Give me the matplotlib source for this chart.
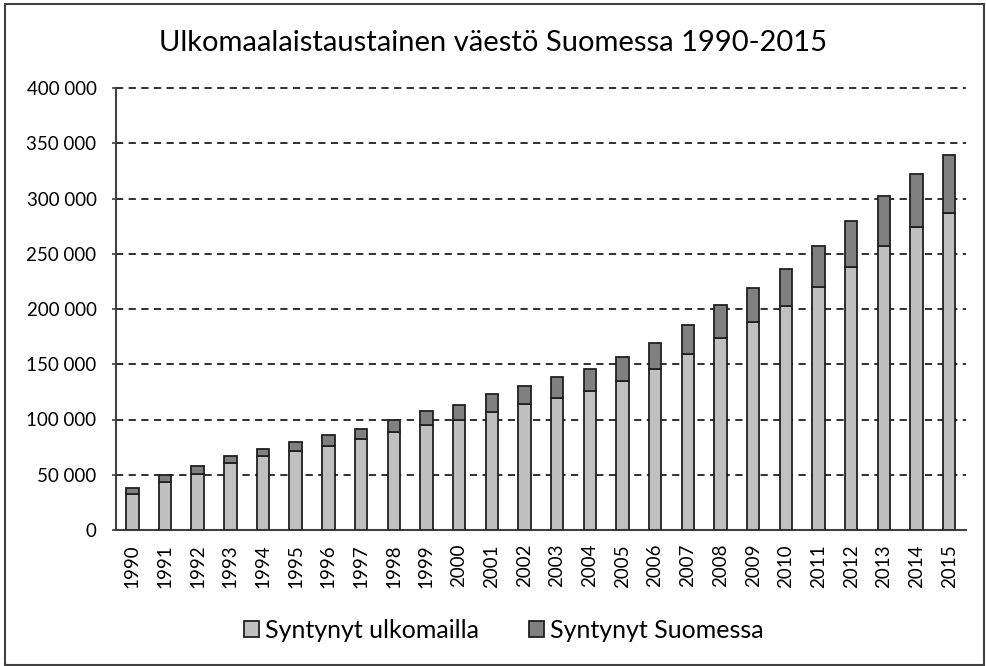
import matplotlib
matplotlib.use("Agg")
import matplotlib.pyplot as plt
from matplotlib.patches import Rectangle
from matplotlib.ticker import FuncFormatter, MultipleLocator

years = [str(y) for y in range(1990, 2016)]
born_abroad = [32600, 43200, 51000, 60600, 66700, 71500, 76300, 82400, 88700, 94700,
               99300, 107100, 113700, 119700, 126000, 135100, 146000, 159000, 174000,
               188200, 202400, 219600, 238000, 256700, 273900, 286600]
total = [37700, 49500, 57900, 67000, 73000, 79600, 85700, 91700, 99300, 107400,
         113400, 122800, 130600, 138200, 146000, 156900, 169500, 185200, 203600,
         219300, 236500, 256700, 279900, 301900, 322200, 339400]
born_finland = [t - a for t, a in zip(total, born_abroad)]

title = "Ulkomaalaistaustainen väestö Suomessa 1990-2015"
series_names = ["Syntynyt ulkomailla", "Syntynyt Suomessa"]

plt.rcParams['font.family'] = ['Lato', 'DejaVu Sans']

W, H = 986, 666
fig = plt.figure(figsize=(W / 100, H / 100), dpi=100)
fig.patch.set_facecolor("white")

# chart border
fig.patches.append(Rectangle((5 / W, 1 - 665 / H), 979 / W, 661 / H, transform=fig.transFigure,
                             fill=False, edgecolor="#404040", linewidth=1.5))

ax = fig.add_axes([116 / W, 1 - 530 / H, (965.5 - 116) / W, (530 - 88) / H])
x = range(len(years))
edge = "#202020"
ax.bar(x, born_abroad, width=0.38, color="#C0C0C0", edgecolor=edge, linewidth=1.3,
       label=series_names[0], zorder=3)
ax.bar(x, born_finland, bottom=born_abroad, width=0.38, color="#808080", edgecolor=edge,
       linewidth=1.3, label=series_names[1], zorder=3)

ax.set_xlim(-0.5, len(years) - 0.5)
ax.set_ylim(0, 400000)
ax.yaxis.set_major_locator(MultipleLocator(50000))
ax.yaxis.set_major_formatter(FuncFormatter(lambda v, p: f"{int(v):,}".replace(",", " ")))
ax.set_xticks(list(x))
ax.set_xticklabels(years, rotation=90, fontsize=13.5)
ax.tick_params(axis='x', length=0, pad=10)
ax.tick_params(axis='y', length=3, width=1.2, color="#404040", labelsize=13.5, pad=11)
ax.grid(axis='y', linestyle=(0, (4, 3)), color="#202020", linewidth=1.3, zorder=0)
for gl in ax.get_ygridlines():
    gl.set_clip_on(False)
for s in ["top", "right"]:
    ax.spines[s].set_visible(False)
for s in ["left", "bottom"]:
    ax.spines[s].set_color("#404040")
    ax.spines[s].set_linewidth(1.5)

fig.text(0.5, 1 - 43 / H, title, ha="center", va="center", fontsize=21)

handles, labels = ax.get_legend_handles_labels()
fig.legend(handles, labels, loc="center", bbox_to_anchor=(504 / W, 1 - 630 / H), ncol=2,
           frameon=False, fontsize=18, handlelength=0.6, handleheight=0.6,
           handletextpad=0.25, columnspacing=2.0)

fig.savefig("out.png", dpi=100)
